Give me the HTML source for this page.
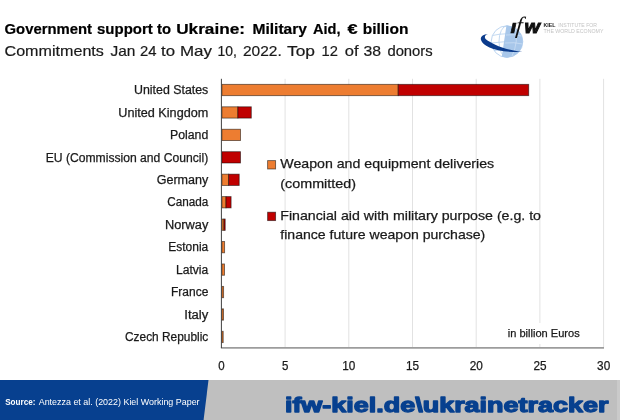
<!DOCTYPE html>
<html lang="en"><head><meta charset="utf-8"><title>Government support to Ukraine: Military Aid</title>
<style>html,body{margin:0;padding:0;background:#fff}body{width:620px;height:420px;overflow:hidden}svg{display:block}text{font-family:"Liberation Sans", sans-serif}</style></head><body>
<svg width="620" height="420" viewBox="0 0 620 420">
<rect width="620" height="420" fill="#fff"/>
<text y="34.2" font-size="14.6" font-weight="bold" fill="#000" stroke="#000" stroke-width=".2"><tspan x="4.5" textLength="87.5" lengthAdjust="spacingAndGlyphs">Government</tspan> <tspan x="97.0" textLength="55.8" lengthAdjust="spacingAndGlyphs">support</tspan> <tspan x="157.0" textLength="14.0" lengthAdjust="spacingAndGlyphs">to</tspan> <tspan x="176.2" textLength="68.8" lengthAdjust="spacingAndGlyphs">Ukraine:</tspan> <tspan x="252.4" textLength="54.6" lengthAdjust="spacingAndGlyphs">Military</tspan> <tspan x="313.0" textLength="27.5" lengthAdjust="spacingAndGlyphs">Aid,</tspan> <tspan x="347.6" textLength="10.1" lengthAdjust="spacingAndGlyphs">€</tspan> <tspan x="362.7" textLength="45.7" lengthAdjust="spacingAndGlyphs">billion</tspan> </text>
<text y="56.4" font-size="15.0" font-weight="normal" fill="#1a1a1a" stroke="#1a1a1a" stroke-width=".2"><tspan x="4.5" textLength="99.4" lengthAdjust="spacingAndGlyphs">Commitments</tspan> <tspan x="110.5" textLength="24.9" lengthAdjust="spacingAndGlyphs">Jan</tspan> <tspan x="140.0" textLength="16.5" lengthAdjust="spacingAndGlyphs">24</tspan> <tspan x="161.0" textLength="14.0" lengthAdjust="spacingAndGlyphs">to</tspan> <tspan x="180.0" textLength="32.0" lengthAdjust="spacingAndGlyphs">May</tspan> <tspan x="217.6" textLength="19.4" lengthAdjust="spacingAndGlyphs">10,</tspan> <tspan x="243.0" textLength="38.8" lengthAdjust="spacingAndGlyphs">2022.</tspan> <tspan x="287.0" textLength="28.0" lengthAdjust="spacingAndGlyphs">Top</tspan> <tspan x="321.6" textLength="16.4" lengthAdjust="spacingAndGlyphs">12</tspan> <tspan x="344.7" textLength="13.8" lengthAdjust="spacingAndGlyphs">of</tspan> <tspan x="363.5" textLength="17.5" lengthAdjust="spacingAndGlyphs">38</tspan> <tspan x="387.4" textLength="45.3" lengthAdjust="spacingAndGlyphs">donors</tspan> </text>
<line x1="285.1" y1="78.8" x2="285.1" y2="347.5" stroke="#e2e2e2" stroke-width="1"/>
<line x1="348.8" y1="78.8" x2="348.8" y2="347.5" stroke="#e2e2e2" stroke-width="1"/>
<line x1="412.5" y1="78.8" x2="412.5" y2="347.5" stroke="#e2e2e2" stroke-width="1"/>
<line x1="476.2" y1="78.8" x2="476.2" y2="347.5" stroke="#e2e2e2" stroke-width="1"/>
<line x1="539.9" y1="78.8" x2="539.9" y2="347.5" stroke="#e2e2e2" stroke-width="1"/>
<line x1="603.6" y1="78.8" x2="603.6" y2="347.5" stroke="#e2e2e2" stroke-width="1"/>
<line x1="220.9" y1="347.9" x2="604" y2="347.9" stroke="#9c9c9c" stroke-width="1.8"/>
<rect x="221.9" y="84.35" width="176.3" height="11.3" fill="#ed7d31" stroke="#000" stroke-opacity=".55" stroke-width=".9"/>
<rect x="398.2" y="84.35" width="130.5" height="11.3" fill="#c00000" stroke="#000" stroke-opacity=".55" stroke-width=".9"/>
<text x="134.0" y="94.15" font-size="12.3" fill="#1a1a1a" stroke="#1a1a1a" stroke-width=".25" textLength="74.3" lengthAdjust="spacingAndGlyphs">United States</text>
<rect x="221.9" y="106.80" width="16.0" height="11.3" fill="#ed7d31" stroke="#000" stroke-opacity=".55" stroke-width=".9"/>
<rect x="237.9" y="106.80" width="13.4" height="11.3" fill="#c00000" stroke="#000" stroke-opacity=".55" stroke-width=".9"/>
<text x="118.3" y="116.60" font-size="12.3" fill="#1a1a1a" stroke="#1a1a1a" stroke-width=".25" textLength="90.0" lengthAdjust="spacingAndGlyphs">United Kingdom</text>
<rect x="221.9" y="129.25" width="18.6" height="11.3" fill="#ed7d31" stroke="#000" stroke-opacity=".55" stroke-width=".9"/>
<text x="170.0" y="139.05" font-size="12.3" fill="#1a1a1a" stroke="#1a1a1a" stroke-width=".25" textLength="38.3" lengthAdjust="spacingAndGlyphs">Poland</text>
<rect x="221.9" y="151.70" width="18.6" height="11.3" fill="#c00000" stroke="#000" stroke-opacity=".55" stroke-width=".9"/>
<text x="45.7" y="161.50" font-size="12.3" fill="#1a1a1a" stroke="#1a1a1a" stroke-width=".25" textLength="162.6" lengthAdjust="spacingAndGlyphs">EU (Commission and Council)</text>
<rect x="221.9" y="174.15" width="6.8" height="11.3" fill="#ed7d31" stroke="#000" stroke-opacity=".55" stroke-width=".9"/>
<rect x="228.7" y="174.15" width="10.5" height="11.3" fill="#c00000" stroke="#000" stroke-opacity=".55" stroke-width=".9"/>
<text x="156.7" y="183.95" font-size="12.3" fill="#1a1a1a" stroke="#1a1a1a" stroke-width=".25" textLength="51.6" lengthAdjust="spacingAndGlyphs">Germany</text>
<rect x="221.9" y="196.60" width="4.1" height="11.3" fill="#ed7d31" stroke="#000" stroke-opacity=".55" stroke-width=".9"/>
<rect x="226.0" y="196.60" width="5.1" height="11.3" fill="#c00000" stroke="#000" stroke-opacity=".55" stroke-width=".9"/>
<text x="167.3" y="206.40" font-size="12.3" fill="#1a1a1a" stroke="#1a1a1a" stroke-width=".25" textLength="41.0" lengthAdjust="spacingAndGlyphs">Canada</text>
<rect x="221.9" y="219.05" width="2.1" height="11.3" fill="#ed7d31" stroke="#000" stroke-opacity=".55" stroke-width=".9"/>
<rect x="224.0" y="219.05" width="1.2" height="11.3" fill="#c00000" stroke="#000" stroke-opacity=".55" stroke-width=".9"/>
<text x="165.0" y="228.85" font-size="12.3" fill="#1a1a1a" stroke="#1a1a1a" stroke-width=".25" textLength="43.3" lengthAdjust="spacingAndGlyphs">Norway</text>
<rect x="221.9" y="241.50" width="2.7" height="11.3" fill="#ed7d31" stroke="#000" stroke-opacity=".55" stroke-width=".9"/>
<text x="168.3" y="251.30" font-size="12.3" fill="#1a1a1a" stroke="#1a1a1a" stroke-width=".25" textLength="40.0" lengthAdjust="spacingAndGlyphs">Estonia</text>
<rect x="221.9" y="263.95" width="2.6" height="11.3" fill="#ed7d31" stroke="#000" stroke-opacity=".55" stroke-width=".9"/>
<text x="176.0" y="273.75" font-size="12.3" fill="#1a1a1a" stroke="#1a1a1a" stroke-width=".25" textLength="32.3" lengthAdjust="spacingAndGlyphs">Latvia</text>
<rect x="221.9" y="286.40" width="1.7" height="11.3" fill="#ed7d31" stroke="#000" stroke-opacity=".55" stroke-width=".9"/>
<text x="171.0" y="296.20" font-size="12.3" fill="#1a1a1a" stroke="#1a1a1a" stroke-width=".25" textLength="37.3" lengthAdjust="spacingAndGlyphs">France</text>
<rect x="221.9" y="308.85" width="1.6" height="11.3" fill="#ed7d31" stroke="#000" stroke-opacity=".55" stroke-width=".9"/>
<text x="184.3" y="318.65" font-size="12.3" fill="#1a1a1a" stroke="#1a1a1a" stroke-width=".25" textLength="24.0" lengthAdjust="spacingAndGlyphs">Italy</text>
<rect x="221.9" y="331.30" width="1.3" height="11.3" fill="#ed7d31" stroke="#000" stroke-opacity=".55" stroke-width=".9"/>
<text x="125.0" y="341.10" font-size="12.3" fill="#1a1a1a" stroke="#1a1a1a" stroke-width=".25" textLength="83.3" lengthAdjust="spacingAndGlyphs">Czech Republic</text>
<line x1="221.4" y1="78.8" x2="221.4" y2="348" stroke="#404040" stroke-width="1"/>
<text x="218.2" y="369.9" font-size="12.2" fill="#1a1a1a" stroke="#1a1a1a" stroke-width=".25" textLength="6.4" lengthAdjust="spacingAndGlyphs">0</text>
<text x="281.9" y="369.9" font-size="12.2" fill="#1a1a1a" stroke="#1a1a1a" stroke-width=".25" textLength="6.4" lengthAdjust="spacingAndGlyphs">5</text>
<text x="342.2" y="369.9" font-size="12.2" fill="#1a1a1a" stroke="#1a1a1a" stroke-width=".25" textLength="13.1" lengthAdjust="spacingAndGlyphs">10</text>
<text x="405.9" y="369.9" font-size="12.2" fill="#1a1a1a" stroke="#1a1a1a" stroke-width=".25" textLength="13.1" lengthAdjust="spacingAndGlyphs">15</text>
<text x="469.7" y="369.9" font-size="12.2" fill="#1a1a1a" stroke="#1a1a1a" stroke-width=".25" textLength="13.1" lengthAdjust="spacingAndGlyphs">20</text>
<text x="533.4" y="369.9" font-size="12.2" fill="#1a1a1a" stroke="#1a1a1a" stroke-width=".25" textLength="13.1" lengthAdjust="spacingAndGlyphs">25</text>
<text x="597.1" y="369.9" font-size="12.2" fill="#1a1a1a" stroke="#1a1a1a" stroke-width=".25" textLength="13.1" lengthAdjust="spacingAndGlyphs">30</text>
<rect x="500" y="323" width="90" height="21" fill="#fff"/>
<text x="507.8" y="337.4" font-size="10.7" fill="#1a1a1a" stroke="#1a1a1a" stroke-width=".25" textLength="71.9" lengthAdjust="spacingAndGlyphs">in billion Euros</text>
<rect x="267.6" y="160.6" width="8" height="8.4" fill="#ed7d31" stroke="#000" stroke-opacity=".55" stroke-width=".9"/>
<rect x="267.6" y="212.2" width="8" height="8.4" fill="#c00000" stroke="#000" stroke-opacity=".55" stroke-width=".9"/>
<text x="280.3" y="168.3" font-size="13.4" fill="#1a1a1a" stroke="#1a1a1a" stroke-width=".25" textLength="213.9" lengthAdjust="spacingAndGlyphs">Weapon and equipment deliveries</text>
<text x="280.3" y="187.5" font-size="13.4" fill="#1a1a1a" stroke="#1a1a1a" stroke-width=".25" textLength="75.7" lengthAdjust="spacingAndGlyphs">(committed)</text>
<text x="280.3" y="219.7" font-size="13.4" fill="#1a1a1a" stroke="#1a1a1a" stroke-width=".25" textLength="260.7" lengthAdjust="spacingAndGlyphs">Financial aid with military purpose (e.g. to</text>
<text x="280.3" y="238.6" font-size="13.4" fill="#1a1a1a" stroke="#1a1a1a" stroke-width=".25" textLength="205.0" lengthAdjust="spacingAndGlyphs">finance future weapon purchase)</text>
<rect x="0" y="380" width="620" height="40" fill="#bfbfbf"/>
<rect x="617" y="380" width="3" height="40" fill="#cacaca"/>
<polygon points="0,380 208.5,380 203.6,420 0,420" fill="#07408f"/>
<text y="405.3" font-size="9.8" fill="#fff"><tspan x="5.2" font-weight="bold" textLength="30.3" lengthAdjust="spacingAndGlyphs">Source:</tspan> <tspan x="38.7" textLength="160.9" lengthAdjust="spacingAndGlyphs">Antezza et al. (2022) Kiel Working Paper</tspan></text>
<text x="284.9" y="411.8" font-size="21" font-weight="bold" fill="#07408f" stroke="#07408f" stroke-width="1.3" stroke-linejoin="round" textLength="323.6" lengthAdjust="spacingAndGlyphs">ifw-kiel.de\ukrainetracker</text>
<g id="logo">
<circle cx="507" cy="41.6" r="15.8" fill="#fff" stroke="#b5d0ee" stroke-width=".9"/>
<g fill="none" stroke="#b5d0ee" stroke-width=".8"><ellipse cx="507" cy="41.6" rx="8" ry="15.8"/><path d="M492.5,35.5 Q507,32 521.5,35.5 M491.3,43 Q507,40 522.7,43 M494,50.5 Q507,48.5 520,50.5"/></g>
<path d="M506.4,25.8 A15.8,15.8 0 1 1 501.8,56.5 Z" fill="#a8c7ea"/>
<g fill="none" stroke="#d6e5f6" stroke-width=".6"><path d="M506,35 Q514,34 521.5,36 M505,43 Q514,42 522.6,44 M515,27.5 Q519,41 512,56"/></g>
<path d="M488,34 C483,34.4 480,37 481,40 C483,46.5 497,52.8 522.5,52 C506,50.3 491.5,44 485.6,39 C484,37 485,35 488,34 Z" fill="#0b3b8c"/>
<text y="32.7" font-weight="bold" font-style="italic" font-size="19" fill="#111" stroke="#111" stroke-width=".7"><tspan x="510.6" textLength="6" lengthAdjust="spacingAndGlyphs">ı</tspan><tspan x="524.4" textLength="15.4" lengthAdjust="spacingAndGlyphs" stroke-width="1">w</tspan></text>
<text x="516.8" y="32.8" transform="translate(2.0 0) skewX(-6)" font-family="&quot;Liberation Serif&quot;, serif" font-style="italic" font-size="23.5" fill="#111" style="font-family:'Liberation Serif',serif">f</text>
<text y="27.2" font-size="5.9" fill="#c4c4c4"><tspan x="543.4" font-weight="bold" fill="#222" textLength="12.2" lengthAdjust="spacingAndGlyphs">KIEL</tspan> <tspan x="558.2" textLength="38.8" lengthAdjust="spacingAndGlyphs">INSTITUTE FOR</tspan></text>
<text x="543.4" y="33.2" font-size="5.9" fill="#c4c4c4" textLength="60" lengthAdjust="spacingAndGlyphs">THE WORLD ECONOMY</text>
</g>
</svg></body></html>
